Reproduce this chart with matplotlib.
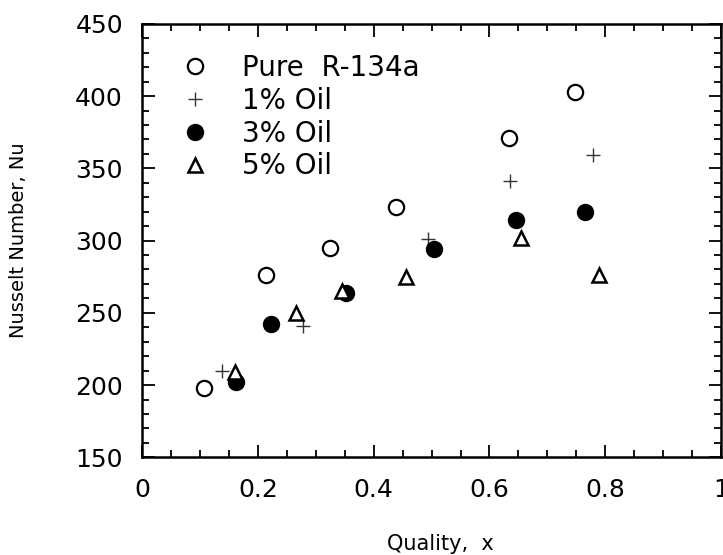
import numpy as np
import matplotlib.pyplot as plt
from matplotlib.ticker import MultipleLocator

plt.rcParams['font.family'] = ['DejaVu Sans']

# Nusselt number vs quality
pure_x = [0.107, 0.213, 0.324, 0.439, 0.633, 0.748]
pure_nu = [198, 276, 295, 323, 371, 403]

oil1_x = [0.138, 0.277, 0.494, 0.635, 0.779]
oil1_nu = [210, 241, 301, 341, 359]

oil3_x = [0.162, 0.223, 0.352, 0.504, 0.646, 0.766]
oil3_nu = [202, 242, 264, 294, 314, 320]

oil5_x = [0.160, 0.266, 0.345, 0.455, 0.655, 0.789]
oil5_nu = [209, 250, 265, 275, 302, 276]

labels = ["Pure  R-134a", "1% Oil", "3% Oil", "5% Oil"]
xtick_labels = ["0", "0.2", "0.4", "0.6", "0.8", "1"]

fig = plt.figure(figsize=(7.23, 5.55), dpi=100)
ax = fig.add_axes([0.197, 0.176, 0.800, 0.781])

ax.plot(pure_x, pure_nu, linestyle="none", marker="o", ms=11, mfc="white",
        mec="black", mew=1.6, label=labels[0])
ax.plot(oil1_x, oil1_nu, linestyle="none", marker="+", ms=10, color="0.2",
        mew=1.0, label=labels[1])
ax.plot(oil3_x, oil3_nu, linestyle="none", marker="o", ms=11.5, color="black",
        label=labels[2])
ax.plot(oil5_x, oil5_nu, linestyle="none", marker="^", ms=10, mfc="white",
        mec="black", mew=1.8, label=labels[3])

ax.set_xlim(0, 1)
ax.set_ylim(150, 450)
ax.set_xticks(np.arange(0, 1.01, 0.2))
ax.set_xticklabels(xtick_labels)
ax.xaxis.set_minor_locator(MultipleLocator(0.05))
ax.yaxis.set_major_locator(MultipleLocator(50))
ax.yaxis.set_minor_locator(MultipleLocator(10))

ax.tick_params(which="both", direction="in", top=True, right=True, width=1.3)
ax.tick_params(which="major", length=9, labelsize=18)
ax.tick_params(which="minor", length=5)
ax.tick_params(axis="x", which="major", pad=15)
ax.tick_params(axis="y", which="major", pad=14)
for s in ax.spines.values():
    s.set_linewidth(1.8)

ax.set_xlabel("Quality,  x", fontsize=15)
ax.xaxis.set_label_coords(0.515, -0.178)
ax.set_ylabel("Nusselt Number, Nu", fontsize=14)
ax.yaxis.set_label_coords(-0.198, 0.5)

ax.legend(loc="upper left", bbox_to_anchor=(0.0667, 0.93), frameon=False,
          fontsize=20, handlelength=1.0, handletextpad=1.19, borderpad=0,
          borderaxespad=0, labelspacing=0.17, numpoints=1)

fig.savefig("out.png", dpi=100)
